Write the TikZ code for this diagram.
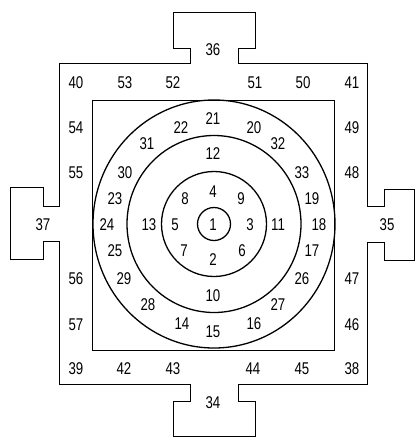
\documentclass[tikz,border=0pt]{standalone}
\usepackage{fontspec}
\setmainfont{Liberation Sans}[FakeStretch=0.78]
\begin{document}
\begin{tikzpicture}[
        x=1pt, y=-1pt,
        wall/.style={
          draw,
          line width=1pt
        },
        ring/.style={
          draw,
          line width=1.3pt
        },
        num/.style={
          inner sep=0pt,
          font=\fontsize{17}{17}\selectfont
        }
      ]
      \useasboundingbox (0,0) rectangle (417,437);

      \draw[wall] (59,63.5) -- (190,63.5) -- (190,48) -- (173,48) -- (173,12)
        -- (255,12) -- (255,48) -- (238,48) -- (238,63.5) -- (367,63.5)
        -- (367,206) -- (384,206) -- (384,189) -- (414,189) -- (414,260)
        -- (384,260) -- (384,242) -- (367,242) -- (367,384) -- (238,384)
        -- (238,401) -- (255,401) -- (255,436) -- (173,436) -- (173,401)
        -- (190,401) -- (190,384) -- (59,384) -- (59,241) -- (43,241)
        -- (43,259) -- (10,259) -- (10,187) -- (43,187) -- (43,206)
        -- (59,206) -- cycle;
      \draw[wall] (92,100) rectangle (334,350);

      \draw[ring] (214,224) ellipse [x radius=121, y radius=124];
      \draw[ring] (214,224) ellipse [x radius=87, y radius=88.5];
      \draw[ring] (214,224) circle [radius=52.5];
      \draw[ring] (214,224) circle [radius=16.5];

      \node[num] (n1) at (213,225) {1};
      \node[num] (n2) at (213,260) {2};
      \node[num] (n3) at (250,225) {3};
      \node[num] (n4) at (213,192) {4};
      \node[num] (n5) at (175,225) {5};
      \node[num] (n6) at (242,251) {6};
      \node[num] (n7) at (184,251) {7};
      \node[num] (n8) at (185,199) {8};
      \node[num] (n9) at (241,199) {9};
      \node[num] (n10) at (213,296) {10};
      \node[num] (n11) at (278,225) {11};
      \node[num] (n12) at (213,154) {12};
      \node[num] (n13) at (149,225) {13};
      \node[num] (n14) at (182,324) {14};
      \node[num] (n15) at (213,332) {15};
      \node[num] (n16) at (254,324) {16};
      \node[num] (n17) at (312,251) {17};
      \node[num] (n18) at (319,225) {18};
      \node[num] (n19) at (312,199) {19};
      \node[num] (n20) at (254,128) {20};
      \node[num] (n21) at (213,119) {21};
      \node[num] (n22) at (181,128) {22};
      \node[num] (n23) at (115,199) {23};
      \node[num] (n24) at (107,225) {24};
      \node[num] (n25) at (115,251) {25};
      \node[num] (n26) at (302,279) {26};
      \node[num] (n27) at (278,305) {27};
      \node[num] (n28) at (148,305) {28};
      \node[num] (n29) at (124,279) {29};
      \node[num] (n30) at (125,173) {30};
      \node[num] (n31) at (147,144) {31};
      \node[num] (n32) at (278,144) {32};
      \node[num] (n33) at (302,173) {33};
      \node[num] (n34) at (213,403) {34};
      \node[num] (n35) at (387,225) {35};
      \node[num] (n36) at (213,50) {36};
      \node[num] (n37) at (43,225) {37};
      \node[num] (n38) at (352,369) {38};
      \node[num] (n39) at (76,369) {39};
      \node[num] (n40) at (76,83) {40};
      \node[num] (n41) at (352,83) {41};
      \node[num] (n42) at (124,369) {42};
      \node[num] (n43) at (173,369) {43};
      \node[num] (n44) at (253,369) {44};
      \node[num] (n45) at (302,369) {45};
      \node[num] (n46) at (352,325) {46};
      \node[num] (n47) at (352,279) {47};
      \node[num] (n48) at (352,173) {48};
      \node[num] (n49) at (352,128) {49};
      \node[num] (n50) at (303,83) {50};
      \node[num] (n51) at (255,83) {51};
      \node[num] (n52) at (173,83) {52};
      \node[num] (n53) at (125,83) {53};
      \node[num] (n54) at (76,128) {54};
      \node[num] (n55) at (76,173) {55};
      \node[num] (n56) at (76,279) {56};
      \node[num] (n57) at (76,325) {57};
    \end{tikzpicture}
\end{document}
